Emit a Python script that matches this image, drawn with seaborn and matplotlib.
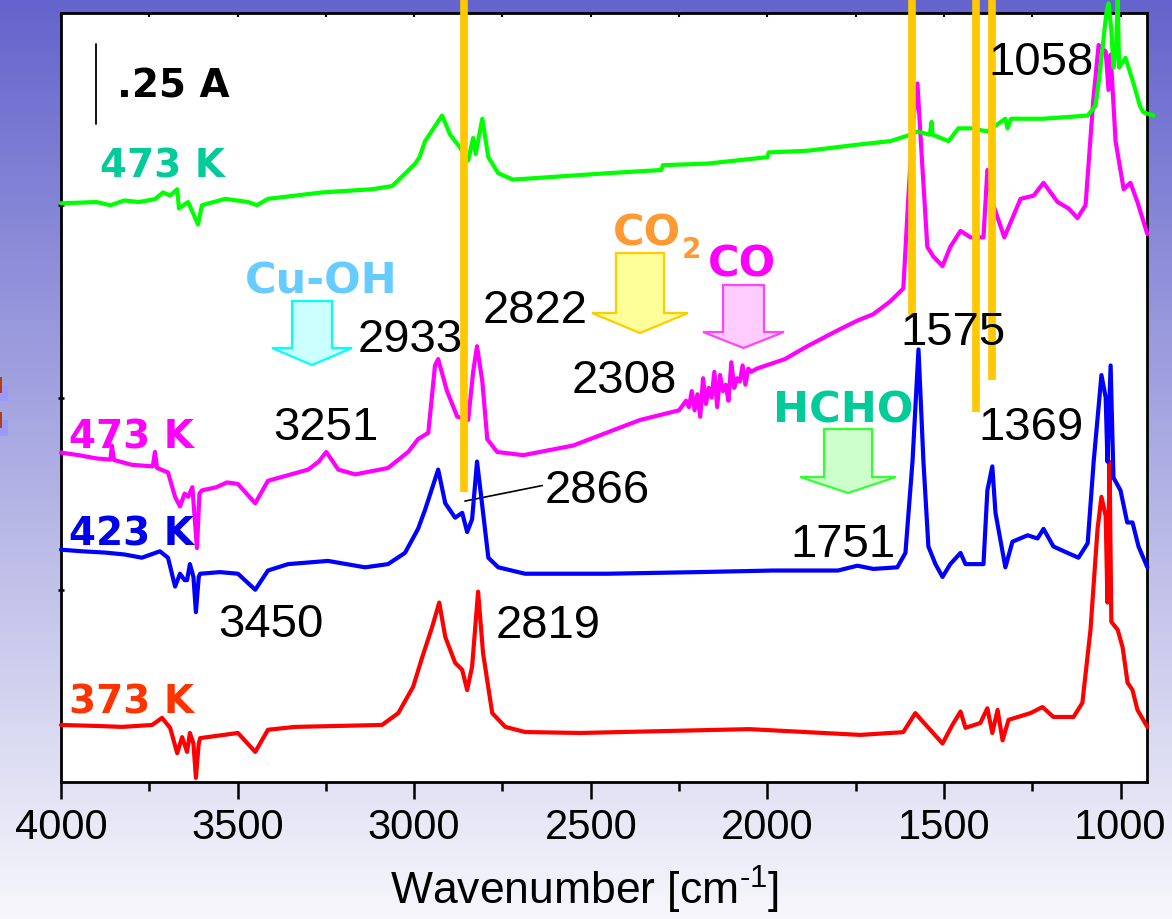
import matplotlib
matplotlib.use("Agg")
import matplotlib.pyplot as plt
import numpy as np
import pandas as pd
import seaborn as sns
from matplotlib.patches import Polygon, Rectangle
from matplotlib.colors import LinearSegmentedColormap

W, H = 1172, 919

# spectra: wavenumber [cm-1] and absorbance [A]
wn_373 = [4000, 3900, 3827, 3742, 3714, 3691, 3671, 3657, 3643, 3635, 3625, 3618,
          3610, 3606, 3499, 3450, 3414, 3337, 3091, 3045, 3003, 2977, 2949, 2929,
          2912, 2884, 2864, 2850, 2836, 2819, 2805, 2779, 2742, 2686, 2530, 2051,
          1737, 1623, 1615, 1581, 1561, 1533, 1504, 1476, 1453, 1439, 1397, 1377,
          1363, 1348, 1334, 1317, 1255, 1221, 1190, 1133, 1108, 1085, 1065, 1054,
          1042, 1037, 1031, 1026, 1008, 994, 980, 966, 952, 924]
abs_373 = [0.178, 0.175, 0.172, 0.178, 0.20, 0.169, 0.09, 0.14, 0.094, 0.153, 0.12, 0.013,
           0.12, 0.137, 0.153, 0.094, 0.163, 0.172, 0.178, 0.215, 0.297, 0.39, 0.484, 0.56,
           0.453, 0.372, 0.35, 0.287, 0.36, 0.594, 0.403, 0.215, 0.172, 0.156, 0.153, 0.165,
           0.147, 0.155, 0.156, 0.215, 0.19, 0.156, 0.12, 0.178, 0.22, 0.169, 0.184, 0.23,
           0.153, 0.225, 0.13, 0.194, 0.215, 0.234, 0.203, 0.203, 0.247, 0.475, 0.79, 0.89,
           0.83, 0.56, 1.00, 0.50, 0.475, 0.42, 0.31, 0.287, 0.225, 0.172]

wn_423 = [4000, 3940, 3875, 3820, 3771, 3720, 3697, 3677, 3663, 3650, 3643, 3635,
          3625, 3618, 3610, 3606, 3550, 3499, 3450, 3414, 3357, 3244, 3139, 3074,
          3026, 2989, 2969, 2932, 2912, 2884, 2864, 2850, 2836, 2822, 2807, 2790,
          2762, 2686, 2453, 2200, 1983, 1800, 1745, 1700, 1632, 1609, 1589, 1572,
          1558, 1544, 1524, 1504, 1482, 1453, 1439, 1388, 1377, 1363, 1354, 1326,
          1306, 1263, 1235, 1218, 1190, 1150, 1119, 1093, 1076, 1054, 1042, 1037,
          1028, 1020, 1000, 981, 966, 949, 924]
abs_423 = [0.725, 0.72, 0.716, 0.71, 0.70, 0.72, 0.70, 0.61, 0.65, 0.63, 0.63, 0.68,
           0.64, 0.53, 0.64, 0.65, 0.655, 0.65, 0.60, 0.66, 0.68, 0.69, 0.67, 0.68,
           0.715, 0.79, 0.85, 0.975, 0.87, 0.825, 0.84, 0.78, 0.82, 1.00, 0.86, 0.70,
           0.67, 0.65, 0.65, 0.655, 0.66, 0.66, 0.675, 0.665, 0.67, 0.715, 1.00, 1.35,
           1.00, 0.735, 0.68, 0.64, 0.68, 0.715, 0.68, 0.68, 0.91, 0.985, 0.84, 0.67,
           0.75, 0.77, 0.76, 0.79, 0.735, 0.715, 0.70, 0.745, 1.00, 1.27, 1.20, 1.00,
           1.30, 0.95, 0.91, 0.81, 0.81, 0.735, 0.67]

wn_473b = [4000, 3950, 3900, 3860, 3856, 3850, 3800, 3740, 3734, 3728, 3697, 3677,
           3663, 3650, 3640, 3628, 3615, 3608, 3601, 3560, 3530, 3499, 3450, 3414,
           3300, 3270, 3249, 3230, 3215, 3167, 3074, 3017, 2989, 2960, 2941, 2932,
           2907, 2878, 2847, 2833, 2822, 2807, 2793, 2765, 2691, 2550, 2360, 2250,
           2230, 2222, 2214, 2206, 2198, 2190, 2182, 2174, 2166, 2158, 2150, 2142,
           2134, 2126, 2118, 2110, 2102, 2094, 2086, 2078, 2070, 2062, 2054, 2046,
           2030, 1950, 1887, 1800, 1745, 1700, 1652, 1615, 1601, 1588, 1575, 1561,
           1547, 1530, 1504, 1482, 1453, 1425, 1388, 1377, 1363, 1329, 1283, 1246,
           1218, 1178, 1147, 1122, 1099, 1077, 1062, 1042, 1034, 1028, 1014, 991,
           972, 952, 924]
abs_473b = [1.028, 1.02, 1.01, 1.006, 1.05, 1.005, 0.99, 0.985, 1.03, 0.98, 0.966, 0.89,
            0.86, 0.90, 0.89, 0.92, 0.73, 0.90, 0.91, 0.92, 0.935, 0.93, 0.87, 0.94,
            0.975, 1.00, 1.03, 1.00, 0.975, 0.96, 0.98, 1.03, 1.07, 1.09, 1.30, 1.32,
            1.22, 1.14, 1.13, 1.28, 1.36, 1.25, 1.07, 1.03, 1.02, 1.05, 1.13, 1.16,
            1.19, 1.17, 1.22, 1.16, 1.21, 1.14, 1.26, 1.18, 1.23, 1.20, 1.28, 1.17,
            1.27, 1.22, 1.24, 1.19, 1.31, 1.23, 1.26, 1.25, 1.30, 1.24, 1.29, 1.28,
            1.29, 1.32, 1.36, 1.41, 1.44, 1.46, 1.50, 1.54, 1.82, 2.05, 2.18, 1.92,
            1.67, 1.64, 1.61, 1.67, 1.72, 1.70, 1.70, 1.91, 1.81, 1.70, 1.82, 1.83,
            1.87, 1.81, 1.79, 1.76, 1.80, 2.13, 2.30, 2.28, 2.16, 2.27, 2.00, 1.85,
            1.87, 1.81, 1.71]

wn_473a = [4000, 3900, 3860, 3820, 3780, 3734, 3711, 3691, 3671, 3666, 3640, 3612,
           3601, 3535, 3470, 3445, 3414, 3261, 3119, 3062, 3034, 2997, 2985, 2969,
           2945, 2921, 2898, 2870, 2847, 2833, 2826, 2807, 2790, 2762, 2720, 2453,
           2300, 2296, 2170, 2000, 1996, 1887, 1737, 1652, 1595, 1575, 1540, 1535,
           1532, 1487, 1459, 1420, 1377, 1326, 1320, 1310, 1218, 1093, 1071, 1060,
           1051, 1040, 1034, 1026, 1020, 1012, 1008, 1004, 986, 963, 945, 935, 907]
abs_473a = [1.806, 1.81, 1.80, 1.815, 1.81, 1.819, 1.84, 1.83, 1.85, 1.79, 1.81, 1.74,
            1.80, 1.82, 1.81, 1.80, 1.82, 1.84, 1.85, 1.86, 1.89, 1.93, 1.95, 2.00,
            2.04, 2.08, 2.02, 1.98, 1.94, 2.01, 1.96, 2.07, 1.95, 1.90, 1.88, 1.90,
            1.91, 1.925, 1.93, 1.95, 1.965, 1.97, 1.99, 2.00, 2.02, 2.03, 2.02, 2.06,
            2.02, 2.00, 2.04, 2.04, 2.03, 2.07, 2.04, 2.07, 2.07, 2.08, 2.11, 2.20,
            2.29, 2.40, 2.43, 2.35, 2.23, 2.30, 2.45, 2.23, 2.26, 2.18, 2.11, 2.09, 2.08]

# marked band positions (orange bars) and where each bar ends
band_wn = [2858, 1589, 1408, 1363]
band_low = [0.906, 1.459, 1.156, 1.256]

peak_labels = ["2933", "3251", "2822", "2308", "2866", "1751", "1575",
               "1369", "1058", "3450", "2819"]
temp_labels = ["473 K", "473 K", "423 K", "373 K"]
species = ["Cu-OH", "CO", "CO", "HCHO"]
x_ticks = [4000, 3500, 3000, 2500, 2000, 1500, 1000]
x_minor = [3750, 3250, 2750, 2250, 1750, 1250]


def fx(px):
    return px / W


def fy(py):
    return 1 - py / H


def down_arrow(fig, x0, x1, ytop, yhead, xl, xr, ytip, fc, ec):
    xt = (xl + xr) / 2
    pts = [(x0, ytop), (x1, ytop), (x1, yhead), (xr, yhead), (xt, ytip),
           (xl, yhead), (x0, yhead)]
    pts = [(fx(a), fy(b)) for a, b in pts]
    fig.add_artist(Polygon(pts, closed=True, transform=fig.transFigure,
                           fc=fc, ec=ec, lw=1.6))


def main():
    sns.set_style("ticks")
    plt.rcParams["font.family"] = ["Liberation Sans", "DejaVu Sans"]
    plt.rcParams["mathtext.fontset"] = "custom"
    plt.rcParams["mathtext.rm"] = "Liberation Sans"
    plt.rcParams["mathtext.default"] = "regular"
    plt.rcParams["text.color"] = "black"
    plt.rcParams["axes.labelcolor"] = "black"
    plt.rcParams["xtick.color"] = "black"
    plt.rcParams["ytick.color"] = "black"

    fig = plt.figure(figsize=(11.72, 9.19), dpi=100)

    # slide background gradient
    bg = fig.add_axes([0, 0, 1, 1], zorder=-5)
    grad = np.linspace(0, 1, 256).reshape(-1, 1)
    cmap = LinearSegmentedColormap.from_list("bg", ["#6464cc", "#f7f7fb"])
    bg.imshow(grad, aspect="auto", cmap=cmap, extent=[0, 1, 0, 1], origin="upper")
    bg.axis("off")
    # leftovers of another slide element at the left edge
    for yy in (377, 412):
        fig.add_artist(Rectangle((0, fy(yy + 24)), fx(8), 16 / H,
                                 transform=fig.transFigure, fc="#9999ff", ec="none"))
        fig.add_artist(Rectangle((0, fy(yy + 16)), fx(2), 16 / H,
                                 transform=fig.transFigure, fc="#b04010", ec="none"))

    ax = fig.add_axes([fx(61), fy(782), (1147 - 61) / W, (782 - 13) / H])
    ax.set_facecolor("white")

    traces = [
        (wn_373, abs_373, "#ff0000"),
        (wn_423, abs_423, "#0000ff"),
        (wn_473b, abs_473b, "#ff00ff"),
        (wn_473a, abs_473a, "#00ff00"),
    ]
    for i, (wn, ab, col) in enumerate(traces):
        df = pd.DataFrame({"wn": wn, "A": ab})
        sns.lineplot(data=df, x="wn", y="A", color=col, lw=3, sort=False,
                     estimator=None, ax=ax, zorder=3 + i, clip_on=False)

    for w, lo in zip(band_wn, band_low):
        ax.plot([w, w], [lo, 2.445], color="#ffc800", lw=5.5, zorder=10,
                clip_on=False, solid_capstyle="butt")

    # .25 A scale bar
    ax.plot([3901, 3901], [2.053, 2.053 + 0.25], color="black", lw=1.3)

    ax.set_xlim(4000, 925)
    ax.set_ylim(0, 2.4)
    ax.set_xticks(x_ticks)
    ax.set_xticks(x_minor, minor=True)
    ax.set_yticks([0.6, 1.2, 1.8])
    ax.set_yticklabels([])
    ax.tick_params(axis="x", which="major", direction="out", length=12,
                   width=1.8, labelsize=30, pad=7, colors="black")
    ax.tick_params(axis="x", which="minor", direction="out", length=6.5,
                   width=1.8)
    ax.tick_params(axis="y", direction="inout", length=5, width=1.8)
    for sp in ax.spines.values():
        sp.set_visible(True)
        sp.set_linewidth(2)
        sp.set_color("black")
    top = ax.secondary_xaxis("top")
    top.set_xticks(x_ticks + x_minor)
    top.set_xticklabels([])
    top.tick_params(direction="in", length=3, width=1.5)

    ax.set_xlabel(r"Wavenumber [cm$^{\text{-}1}$]", fontsize=32, va="baseline",
                  color="black")
    ax.xaxis.set_label_coords(0.4825, -0.160)
    ax.set_ylabel("")

    # peak numbers
    peak_pos = [(358, 352), (273, 440), (483, 323), (572, 393), (545, 503),
                (790, 557), (900, 345), (978, 440), (988, 75), (218, 637),
                (496, 638)]
    for s, (x, y) in zip(peak_labels, peak_pos):
        fig.text(fx(x), fy(y), s, fontsize=34, va="baseline", ha="left",
                 color="black", zorder=20)
    ax.annotate("", xy=(2864, 0.875), xycoords="data",
                xytext=(fx(545), fy(485)), textcoords="figure fraction",
                arrowprops=dict(arrowstyle="-", lw=1.2, color="black"))

    bold = dict(fontweight="bold", family="DejaVu Sans", va="baseline",
                ha="left", zorder=20)
    fig.text(fx(117), fy(97), ".25 A", fontsize=28, color="black", **bold)
    temp_pos = [(100, 177, "#00cc99"), (69, 448, "#ff00ff"),
                (69, 545, "#0000ee"), (69, 713, "#ff3300")]
    for s, (x, y, c) in zip(temp_labels, temp_pos):
        fig.text(fx(x), fy(y), s, fontsize=28, color=c, **bold)

    sp_pos = [(245, 293, "#66ccff"), (613, 245, "#ff9933"),
              (708, 277, "#ff00ff"), (773, 422, "#00cc99")]
    for s, (x, y, c) in zip(species, sp_pos):
        fig.text(fx(x), fy(y), s, fontsize=31, color=c, **bold)
    fig.text(fx(682), fy(258), "2", fontsize=20, color="#ff9933", **bold)

    down_arrow(fig, 292, 332, 301, 348, 272, 352, 365, "#ccffff", "#00ffff")
    down_arrow(fig, 616, 664, 253, 313, 592, 688, 333, "#ffff99", "#ffcc00")
    down_arrow(fig, 723, 764, 285, 332, 703, 784, 348, "#ffccff", "#ff44ff")
    down_arrow(fig, 824, 872, 429, 477, 800, 896, 493, "#ccffcc", "#33ff33")

    fig.savefig("out.png", dpi=100)
    plt.close(fig)


if __name__ == "__main__":
    main()
